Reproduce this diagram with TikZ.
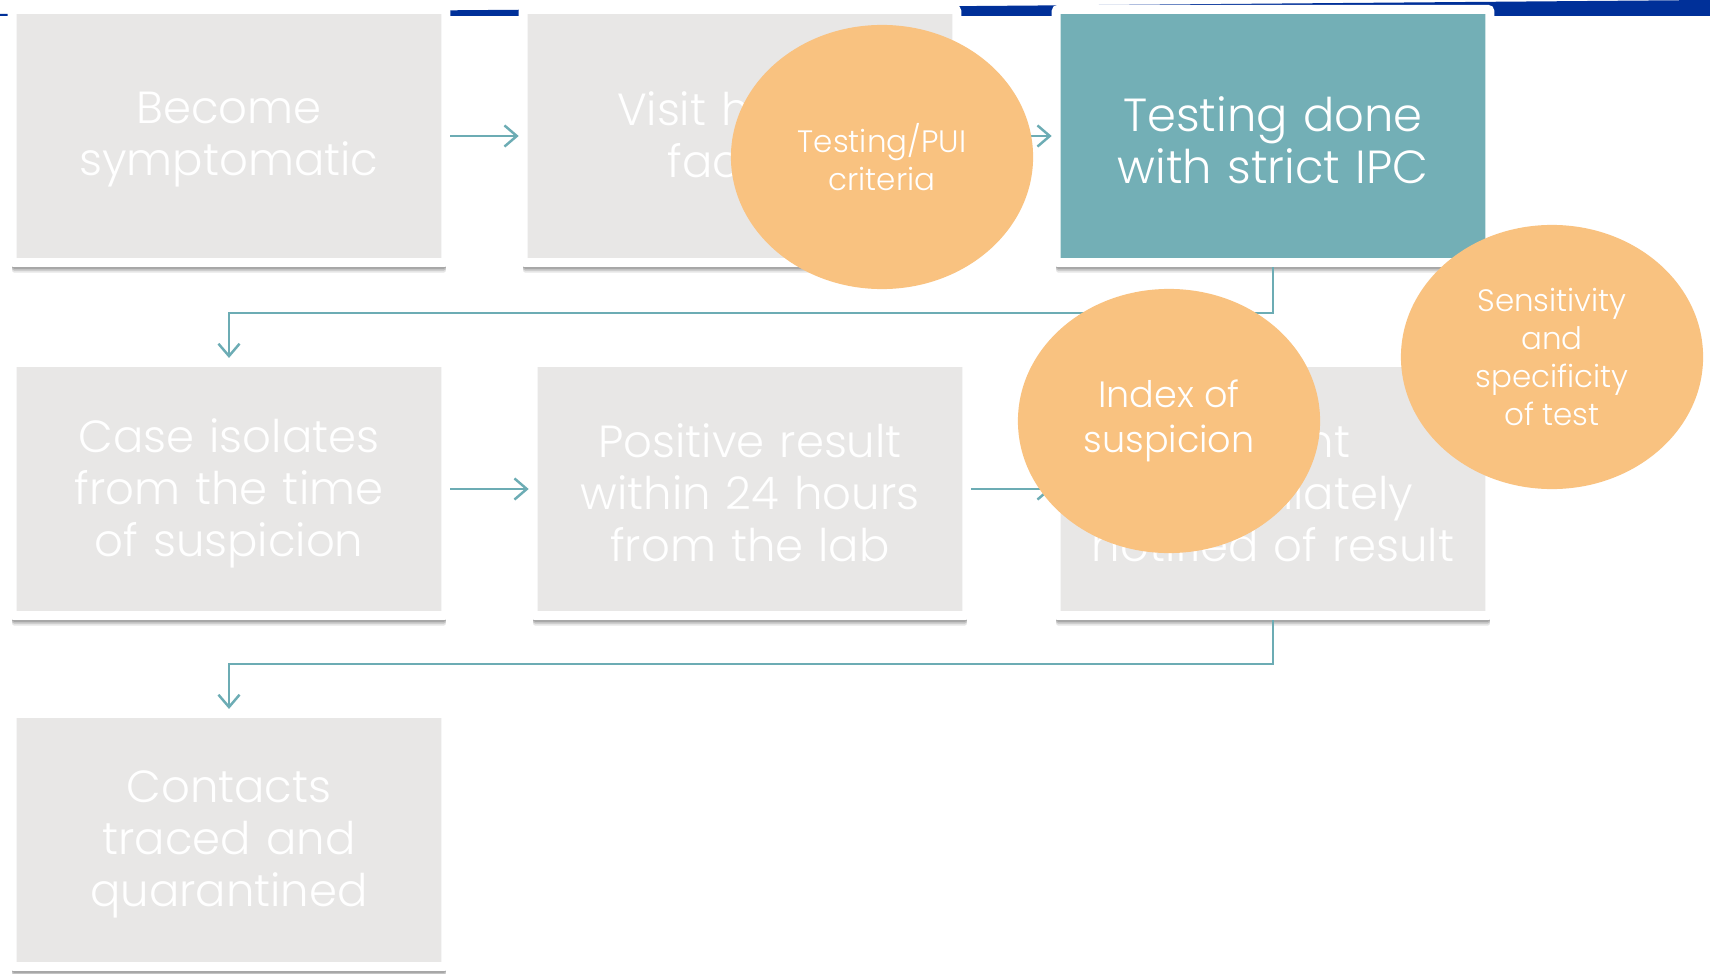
\documentclass[tikz,border=0pt]{standalone}
\usepackage{fontspec}
\IfFontExistsTF{Poppins Light}{\setmainfont{Poppins Light}}{\setmainfont{Poppins}}
\usepackage{tikz}
\usetikzlibrary{arrows.meta,positioning,shapes.geometric,shadows}

\definecolor{boxgray}{RGB}{232,231,230}
\definecolor{tealfill}{RGB}{115,175,182}
\definecolor{linkteal}{RGB}{108,172,180}
\definecolor{peach}{RGB}{249,194,128}
\definecolor{barblue}{RGB}{0,48,153}

\newcommand{\boxfont}[1]{\fontsize{#1}{14.8}\selectfont\lineskiplimit=-20pt\relax}

\tikzset{
  stepbox/.style={rectangle, rounded corners=0.6pt, draw=white, line width=0.09cm, fill=boxgray,
    minimum width=4.24cm, minimum height=2.53cm, text width=4.1cm, align=center,
    text=white, font=\boxfont{12.8},
    execute at end node={\par\vspace*{-0.08cm}},
    drop shadow={shadow xshift=0pt, shadow yshift=-0.1cm, opacity=0.1, fill=black},
    drop shadow={shadow xshift=0pt, shadow yshift=-0.08cm, opacity=0.15, fill=black},
    drop shadow={shadow xshift=0pt, shadow yshift=-0.06cm, opacity=0.2, fill=black}},
  link/.style={linkteal, line width=0.7pt, -{Straight Barb[length=3.5pt,width=6pt]}},
  bubble/.style={ellipse, fill=peach, minimum width=3.02cm, minimum height=2.64cm,
    text=white, align=center, inner sep=0pt}
}

\begin{document}
\begin{tikzpicture}[x=0.01cm,y=-0.01cm]
\useasboundingbox (0,0) rectangle (1710,973);
% Background and top bar
\fill[white] (0,0) rectangle (1710,973);
\fill[barblue] (0,14) -- (1710,0) -- (1710,16) -- (0,16) -- cycle;

% Steps
\node[stepbox] (symp) at (229,136) {Become\\symptomatic};
\node[stepbox] (visit) at (740,136) {Visit health\\facility};
\node[stepbox, fill=tealfill, font=\boxfont{13.2}] (test) at (1273,136) {Testing done\\with strict IPC};
\node[stepbox] (isol) at (229,489) {Case isolates\\from the time\\of suspicion};
\node[stepbox] (pos) at (750,489) {Positive result\\within 24 hours\\from the lab};
\node[stepbox] (notif) at (1273,489) {Patient\\immediately\\notified of result};
\node[stepbox] (trace) at (229,840) {Contacts\\traced and\\quarantined};

% Connectors
\coordinate (turnA) at (229,313);
\coordinate (turnB) at (229,664);
\draw[link] (symp) -- (visit);
\draw[link] (visit) -- (test);
\draw[link] (test.south) |- (turnA) -- (isol.north);
\draw[link] (isol) -- (pos);
\draw[link] (pos) -- (notif);
\draw[link] (notif.south) |- (turnB) -- (trace.north);

% Bubbles
\node[bubble, font=\fontsize{8.8}{10.8}\selectfont] (pui) at (882,157) {Testing/PUI\\criteria};
\node[bubble, font=\fontsize{10.4}{12.8}\selectfont] (susp) at (1169,421) {Index of\\suspicion};
\node[bubble, font=\fontsize{8.8}{10.8}\selectfont] (sens) at (1552,357) {Sensitivity\\and\\specificity\\of test};
\end{tikzpicture}
\end{document}
